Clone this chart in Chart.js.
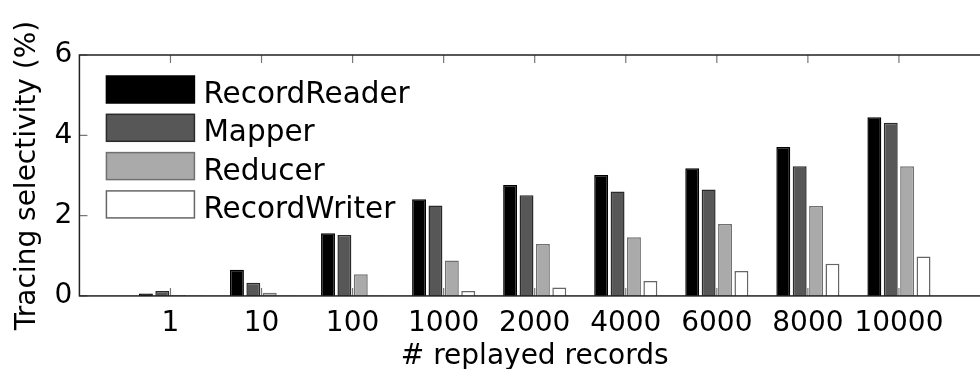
<!DOCTYPE html>
<html>
<head>
<meta charset="utf-8">
<title>Tracing selectivity</title>
<script src="https://cdn.jsdelivr.net/npm/chart.js"></script>
<style>
  html, body { margin: 0; padding: 0; overflow: hidden; background: #fff; }
  #wrap { width: 1004px; height: 369px; }
</style>
</head>
<body>
<div id="wrap"><canvas id="chart"></canvas></div>
<script>
const categories = ['1', '10', '100', '1000', '2000', '4000', '6000', '8000', '10000'];
const recordReader = [0.06, 0.65, 1.56, 2.41, 2.76, 3.01, 3.18, 3.71, 4.45];
const mapper = [0.12, 0.33, 1.52, 2.25, 2.51, 2.60, 2.65, 3.23, 4.31];
const reducer = [0.02, 0.08, 0.54, 0.88, 1.29, 1.46, 1.79, 2.24, 3.23];
const recordWriter = [0.01, 0.01, 0.01, 0.12, 0.21, 0.37, 0.62, 0.80, 0.98];
const yTicks = [0, 2, 4, 6];

// empty slot on each side, like xlim [0 10]
const labels = ['', ...categories, ''];
const pad = arr => [null, ...arr, null];

Chart.defaults.font.family = 'DejaVu Sans';
Chart.defaults.font.size = 28;
Chart.defaults.color = '#000';

// box, inward ticks and the legend inside the axes
const frame = {
  id: 'frame',
  afterDatasetsDraw(chart) {
    const { ctx, chartArea: a, scales: { x, y } } = chart;
    ctx.save();
    ctx.strokeStyle = '#777';
    ctx.lineWidth = 1.2;
    ctx.beginPath();
    categories.forEach((c, i) => {
      const px = x.getPixelForValue(i + 1);
      ctx.moveTo(px, a.top); ctx.lineTo(px, a.top + 8);
      ctx.moveTo(px, a.bottom); ctx.lineTo(px, a.bottom - 8);
    });
    yTicks.forEach(v => {
      const py = y.getPixelForValue(v);
      ctx.moveTo(a.left, py); ctx.lineTo(a.left + 8, py);
    });
    ctx.stroke();

    ctx.strokeStyle = '#222';
    ctx.lineWidth = 1.5;
    ctx.strokeRect(a.left, a.top, a.right - a.left, a.bottom - a.top);

    ctx.font = '29.5px "DejaVu Sans"';
    ctx.textBaseline = 'alphabetic';
    chart.data.datasets.forEach((ds, i) => {
      const bx = a.left + 27, by = a.top + 21 + i * 38.3;
      ctx.fillStyle = ds.backgroundColor;
      ctx.fillRect(bx, by, 88, 27);
      ctx.strokeStyle = ds.borderColor;
      ctx.lineWidth = 1.5;
      ctx.strokeRect(bx, by, 88, 27);
      ctx.fillStyle = '#000';
      ctx.fillText(ds.label, bx + 97, by + 27);
    });
    ctx.restore();
  }
};

const bar = (label, data, fill, border) => ({
  label, data: pad(data),
  backgroundColor: fill, borderColor: border, borderWidth: 1.5,
  categoryPercentage: 0.72, barPercentage: 0.85
});

new Chart(document.getElementById('chart'), {
  type: 'bar',
  data: {
    labels,
    datasets: [
      bar('RecordReader', recordReader, '#000000', '#000000'),
      bar('Mapper', mapper, '#575757', '#2a2a2a'),
      bar('Reducer', reducer, '#aaaaaa', '#707070'),
      bar('RecordWriter', recordWriter, '#ffffff', '#666666')
    ]
  },
  options: {
    responsive: true,
    maintainAspectRatio: false,
    animation: false,
    layout: { padding: { top: 55 } },
    plugins: { legend: { display: false }, tooltip: { enabled: false } },
    scales: {
      x: {
        offset: false,
        grid: { display: false, drawTicks: false },
        border: { display: false },
        ticks: { padding: 14, maxRotation: 0, autoSkip: false, font: { lineHeight: 1 } },
        title: { display: true, text: '# replayed records', font: { lineHeight: 0.36 }, padding: { top: 0, bottom: 7 } }
      },
      y: {
        min: 0, max: 6,
        afterBuildTicks: s => { s.ticks = yTicks.map(v => ({ value: v })); },
        grid: { display: false, drawTicks: false },
        border: { display: false },
        ticks: { padding: 7 },
        title: { display: true, text: 'Tracing selectivity (%)', padding: { top: 11, bottom: 3 } }
      }
    }
  },
  plugins: [frame]
});
</script>
</body>
</html>
